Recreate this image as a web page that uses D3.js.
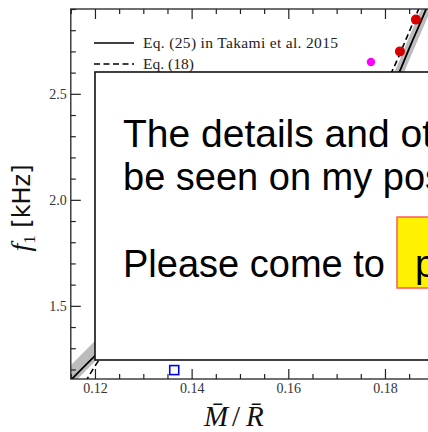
<!DOCTYPE html>
<html>
<head>
<meta charset="utf-8">
<script src="https://cdn.jsdelivr.net/npm/d3@7"></script>
<style>
  body { margin: 0; background: #fff; }
  svg { display: block; }
</style>
</head>
<body>
<div id="chart"></div>
<script>
// ticks
var xMajor = [0.12, 0.14, 0.16, 0.18];
var xMinor = [0.115, 0.125, 0.13, 0.135, 0.145, 0.15, 0.155, 0.165, 0.17, 0.175, 0.185, 0.19];
var yMajor = [1.5, 2.0, 2.5];
var yMinor = [1.2, 1.3, 1.4, 1.6, 1.7, 1.8, 1.9, 2.1, 2.2, 2.3, 2.4, 2.6, 2.7, 2.8, 2.9];

// Eq. (25) Takami et al. 2015 fit, with its band
var fitC   = [0.115, 0.120, 0.130, 0.140, 0.150, 0.160, 0.170, 0.176, 0.181, 0.1855, 0.1886, 0.1905];
var fitF   = [1.150, 1.264, 1.470, 1.660, 1.840, 2.025, 2.220, 2.360, 2.505, 2.740, 2.904, 3.010];
var bandHi = [1.220, 1.334, 1.535, 1.720, 1.895, 2.080, 2.275, 2.415, 2.560, 2.795, 2.959, 3.065];
var bandLo = [1.122, 1.238, 1.440, 1.620, 1.790, 1.972, 2.166, 2.305, 2.450, 2.685, 2.849, 2.955];

// Eq. (18)
var eq18C = [0.1180, 0.1195, 0.125, 0.135, 0.145, 0.155, 0.165, 0.172, 0.177, 0.1815, 0.1845, 0.1870, 0.1905];
var eq18F = [1.140, 1.198, 1.370, 1.600, 1.800, 1.980, 2.160, 2.300, 2.430, 2.608, 2.765, 2.901, 3.085];

// simulation points
var redC = [0.1831, 0.1864];
var redF = [2.70, 2.85];
var magC = [0.1771];
var magF = [2.65];
var blueC = [0.1364];
var blueF = [1.197];

var legendLabels = ["Eq. (25) in Takami et al. 2015", "Eq. (18)"];
var posterLines = ["The details and other results can", "be seen on my poster."];
var posterLast = "Please come to";
var posterWord = "poster";

var W = 428, H = 432;
var plot = {left: 70.8, right: 433.3, top: 9, bottom: 379};

var svg = d3.select("#chart").append("svg")
    .attr("width", W)
    .attr("height", H);

var x = d3.scaleLinear().domain([0.115, 0.19]).range([plot.left, plot.right]);
var y = d3.scaleLinear().domain([1.155, 2.9]).range([plot.bottom, plot.top]);

svg.append("clipPath").attr("id", "clip")
    .append("rect")
    .attr("x", plot.left).attr("y", plot.top)
    .attr("width", plot.right - plot.left).attr("height", plot.bottom - plot.top);

var g = svg.append("g").attr("clip-path", "url(#clip)");

// band
var bandData = fitC.map((c, i) => [c, bandLo[i], bandHi[i]]);
g.append("path")
    .datum(bandData)
    .attr("fill", "#bcbcbc")
    .attr("d", d3.area()
        .x(d => x(d[0]))
        .y0(d => y(d[1]))
        .y1(d => y(d[2]))
        .curve(d3.curveMonotoneX));

var line = d3.line().x(d => x(d[0])).y(d => y(d[1])).curve(d3.curveMonotoneX);

g.append("path")
    .datum(fitC.map((c, i) => [c, fitF[i]]))
    .attr("fill", "none")
    .attr("stroke", "#000")
    .attr("stroke-width", 1.8)
    .attr("d", line);

g.append("path")
    .datum(eq18C.map((c, i) => [c, eq18F[i]]))
    .attr("fill", "none")
    .attr("stroke", "#000")
    .attr("stroke-width", 1.6)
    .attr("stroke-dasharray", "6,3.5")
    .attr("d", line);

// points
g.selectAll("circle.red")
    .data(redC.map((c, i) => [c, redF[i]]))
    .enter().append("circle")
    .attr("class", "red")
    .attr("cx", d => x(d[0])).attr("cy", d => y(d[1]))
    .attr("r", 5)
    .attr("fill", "#d60000");

g.selectAll("circle.mag")
    .data(magC.map((c, i) => [c, magF[i]]))
    .enter().append("circle")
    .attr("class", "mag")
    .attr("cx", d => x(d[0])).attr("cy", d => y(d[1]))
    .attr("r", 4.2)
    .attr("fill", "#ff00ff");

g.selectAll("rect.blue")
    .data(blueC.map((c, i) => [c, blueF[i]]))
    .enter().append("rect")
    .attr("class", "blue")
    .attr("x", d => x(d[0]) - 4.5).attr("y", d => y(d[1]) - 4.5)
    .attr("width", 9).attr("height", 9)
    .attr("fill", "#fff")
    .attr("stroke", "#0000ff")
    .attr("stroke-width", 1.6);

// axes, all ticks inward
function styleAxis(sel) {
    sel.select(".domain").remove();
    sel.selectAll("line").attr("stroke", "#222").attr("stroke-width", 1.2);
    sel.selectAll("text")
        .attr("font-family", "'Liberation Serif', serif")
        .attr("font-size", 14)
        .attr("fill", "#333");
}

function ticks(axisFn, pos, scale, vals, size, labels) {
    var a = axisFn(scale).tickValues(vals).tickSizeInner(-size).tickSizeOuter(0);
    if (labels) a.tickPadding(4).tickFormat(d3.format(labels));
    else a.tickFormat("");
    svg.append("g").attr("transform", pos).call(a).call(styleAxis);
}

ticks(d3.axisBottom, `translate(0,${plot.bottom})`, x, xMajor, 10, ".2f");
ticks(d3.axisBottom, `translate(0,${plot.bottom})`, x, xMinor, 5);
ticks(d3.axisTop, `translate(0,${plot.top})`, x, xMajor, 10);
ticks(d3.axisTop, `translate(0,${plot.top})`, x, xMinor, 5);
ticks(d3.axisLeft, `translate(${plot.left},0)`, y, yMajor, 10, ".1f");
ticks(d3.axisLeft, `translate(${plot.left},0)`, y, yMinor, 5);
ticks(d3.axisRight, `translate(${plot.right},0)`, y, yMajor, 10);
ticks(d3.axisRight, `translate(${plot.right},0)`, y, yMinor, 5);

svg.append("rect")
    .attr("x", plot.left).attr("y", plot.top)
    .attr("width", plot.right - plot.left).attr("height", plot.bottom - plot.top)
    .attr("fill", "none")
    .attr("stroke", "#222")
    .attr("stroke-width", 1.3);

// legend
var leg = svg.append("g");
legendLabels.forEach((t, i) => {
    var ly = 43 + i * 21;
    leg.append("line")
        .attr("x1", 94).attr("x2", 134).attr("y1", ly).attr("y2", ly)
        .attr("stroke", "#000")
        .attr("stroke-width", 1.6)
        .attr("stroke-dasharray", i == 1 ? "6,3.5" : null);
    var tx = leg.append("text")
        .attr("x", 143).attr("y", ly + 5)
        .attr("font-family", "'Liberation Serif', serif")
        .attr("font-size", 15.5)
        .attr("fill", "#222")
        .text(t);
    if (i == 0) tx.attr("textLength", 195).attr("lengthAdjust", "spacing");
});

// axis labels
svg.append("text")
    .attr("font-family", "'Liberation Serif', serif")
    .attr("font-size", 29)
    .attr("font-style", "italic")
    .attr("fill", "#111")
    .attr("y", 426)
    .call(t => {
        t.append("tspan").attr("x", 204).text("M\u0304");
        t.append("tspan").attr("x", 232).attr("font-style", "normal").text("/");
        t.append("tspan").attr("x", 246).text("R\u0304");
    });

var yl = svg.append("text")
    .attr("transform", "translate(30,208) rotate(-90)")
    .attr("text-anchor", "middle")
    .attr("fill", "#111");
yl.append("tspan")
    .attr("font-family", "'Liberation Serif', serif")
    .attr("font-style", "italic")
    .attr("font-size", 28)
    .text("f");
yl.append("tspan")
    .attr("font-family", "'Liberation Serif', serif")
    .attr("font-size", 17)
    .attr("dy", 5)
    .text("1");
yl.append("tspan")
    .attr("font-family", "'DejaVu Sans', sans-serif")
    .attr("font-size", 24)
    .attr("dy", -5)
    .text(" [kHz]");

// poster overlay
var box = svg.append("g");
box.append("rect")
    .attr("x", 95).attr("y", 72)
    .attr("width", 360).attr("height", 288)
    .attr("fill", "#fff")
    .attr("stroke", "#111")
    .attr("stroke-width", 1.6);

var big = {family: "'Liberation Sans', Arial, sans-serif", sizes: [39, 38]};
posterLines.forEach((t, i) => {
    box.append("text")
        .attr("x", 123).attr("y", 147 + i * 43)
        .attr("font-family", big.family)
        .attr("font-size", big.sizes[i])
        .attr("fill", "#000")
        .text(t);
});
box.append("text")
    .attr("x", 123).attr("y", 277)
    .attr("font-family", big.family)
    .attr("font-size", 38)
    .attr("fill", "#000")
    .text(posterLast);
box.append("rect")
    .attr("x", 397).attr("y", 217)
    .attr("width", 120).attr("height", 71)
    .attr("fill", "#fff200")
    .attr("stroke", "#ff5a5a")
    .attr("stroke-width", 1.5);
box.append("text")
    .attr("x", 415).attr("y", 277)
    .attr("font-family", big.family)
    .attr("font-size", 38)
    .attr("fill", "#000")
    .text(posterWord);
</script>
</body>
</html>
